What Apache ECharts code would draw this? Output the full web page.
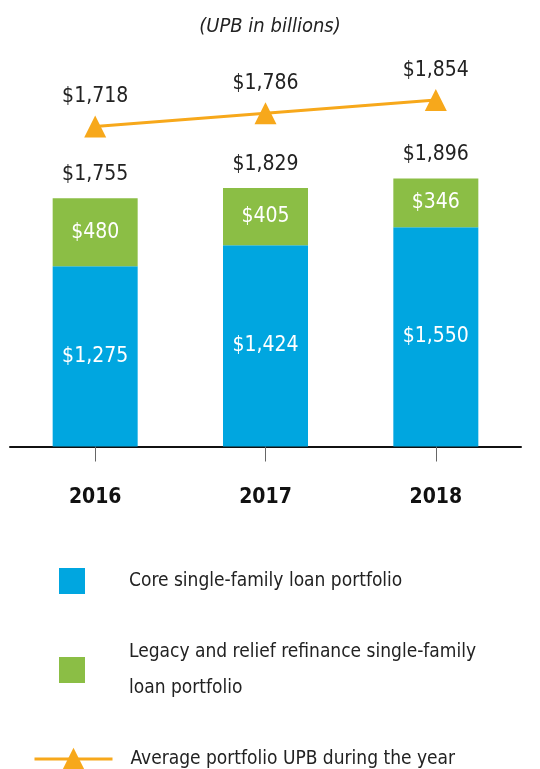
<!DOCTYPE html>
<html>
<head>
<meta charset="utf-8">
<script src="https://cdn.jsdelivr.net/npm/echarts@6/dist/echarts.min.js"></script>
<style>
  html, body { margin: 0; padding: 0; background: #fff; }
  #chart { width: 540px; height: 769px; }
</style>
</head>
<body>
<div id="chart"></div>
<script>
const years = ['2016', '2017', '2018'];
const coreValues = [1275, 1424, 1550];
const legacyValues = [480, 405, 346];
const totalValues = [1755, 1829, 1896];
const averageValues = [1718, 1786, 1854];
const seriesNames = [
  'Core single-family loan portfolio',
  'Legacy and relief refinance single-family loan portfolio',
  'Average portfolio UPB during the year'
];

const FONT = "'Liberation Sans Narrow', 'DejaVu Sans Condensed', sans-serif";
const BLUE = '#00A6E0';
const GREEN = '#8BBE45';
const ORANGE = '#F7A81B';

const money = v => '$' + Number(v).toLocaleString('en-US');

let myChart = echarts.init(document.getElementById('chart'));

let legendText = {
  fontFamily: FONT,
  fontSize: 19,
  color: '#222',
  padding: [0, 0, 0, 39]
};

let option = {
  animation: false,
  textStyle: { fontFamily: FONT },
  title: {
    text: '(UPB in billions)',
    left: 'center',
    top: 12,
    textStyle: {
      fontFamily: FONT,
      fontSize: 20,
      fontStyle: 'italic',
      fontWeight: 'normal',
      color: '#222'
    }
  },
  legend: [
    {
      data: [{ name: seriesNames[0], icon: 'rect' }],
      left: 59,
      top: 568,
      padding: 0,
      orient: 'vertical',
      itemWidth: 26,
      itemHeight: 26,
      selectedMode: false,
      textStyle: Object.assign({ lineHeight: 26 }, legendText)
    },
    {
      data: [{ name: seriesNames[1], icon: 'rect' }],
      left: 59,
      top: 634,
      padding: 0,
      orient: 'vertical',
      itemWidth: 26,
      itemHeight: 26,
      selectedMode: false,
      formatter: () => 'Legacy and relief refinance single-family\nloan portfolio',
      textStyle: Object.assign({ lineHeight: 36 }, legendText)
    },
    {
      data: [seriesNames[2]],
      left: 33,
      top: 745,
      padding: 0,
      orient: 'vertical',
      itemWidth: 78,
      itemHeight: 28,
      selectedMode: false,
      lineStyle: { width: 3 },
      textStyle: Object.assign({ lineHeight: 28 }, legendText, { padding: [0, 0, 0, 13] })
    }
  ],
  grid: {
    left: 10,
    width: 511,
    top: 40,
    height: 406.5,
    containLabel: false
  },
  xAxis: {
    type: 'category',
    data: years,
    axisLine: { lineStyle: { color: '#111', width: 2 } },
    axisTick: { show: true, alignWithLabel: true, length: 15, lineStyle: { color: '#666', width: 1 } },
    axisLabel: {
      margin: 41,
      fontFamily: FONT,
      fontSize: 21,
      fontWeight: 'bold',
      color: '#111'
    }
  },
  yAxis: [
    { type: 'value', min: 0, max: 2875, show: false, splitLine: { show: false } },
    { type: 'value', min: 76, max: 2162, show: false, splitLine: { show: false } }
  ],
  series: [
    {
      name: seriesNames[0],
      type: 'bar',
      stack: 'upb',
      barWidth: 85,
      itemStyle: { color: BLUE },
      label: {
        show: true,
        position: 'inside',
        formatter: p => money(p.value),
        color: '#fff',
        fontFamily: FONT,
        fontSize: 21
      },
      data: coreValues
    },
    {
      name: seriesNames[1],
      type: 'bar',
      stack: 'upb',
      barWidth: 85,
      itemStyle: { color: GREEN },
      label: {
        show: true,
        position: 'inside',
        formatter: p => money(p.value),
        color: '#fff',
        fontFamily: FONT,
        fontSize: 21
      },
      data: legacyValues
    },
    {
      name: 'Total',
      type: 'bar',
      barWidth: 85,
      barGap: '-100%',
      z: 1,
      itemStyle: { color: 'rgba(0,0,0,0)' },
      label: {
        show: true,
        position: 'top',
        distance: 13,
        formatter: p => money(p.value),
        color: '#222',
        fontFamily: FONT,
        fontSize: 21
      },
      data: totalValues
    },
    {
      name: seriesNames[2],
      type: 'line',
      yAxisIndex: 1,
      symbol: 'triangle',
      symbolSize: [22, 22],
      lineStyle: { color: ORANGE, width: 3 },
      itemStyle: { color: ORANGE },
      label: {
        show: true,
        position: 'top',
        distance: 8,
        formatter: p => money(p.value),
        color: '#222',
        fontFamily: FONT,
        fontSize: 21
      },
      data: averageValues
    }
  ]
};

myChart.setOption(option);
</script>
</body>
</html>
